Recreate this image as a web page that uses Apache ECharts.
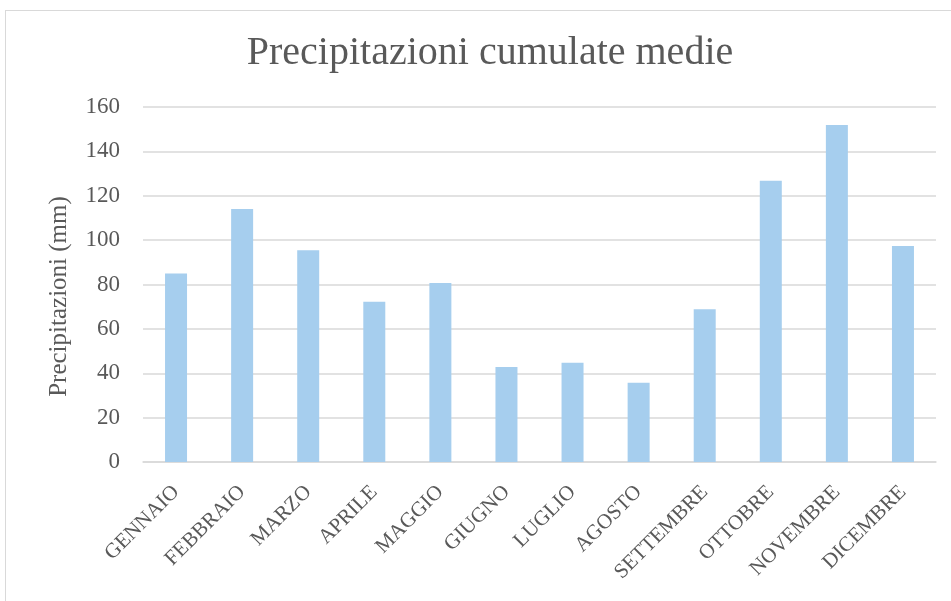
<!DOCTYPE html>
<html>
<head>
<meta charset="utf-8">
<script src="https://cdn.jsdelivr.net/npm/echarts@6/dist/echarts.min.js"></script>
<style>
  html, body { margin: 0; padding: 0; background: #fff; }
  #frame { position: absolute; left: 5px; top: 10px; width: 960px; height: 600px; border: 1px solid #d9d9d9; box-sizing: border-box; }
  #chart { position: absolute; left: 0; top: 0; width: 951px; height: 601px; }
</style>
</head>
<body>
<div id="frame"></div>
<div id="chart"></div>
<script>
// mesi e precipitazioni (mm)
var mesi = ['GENNAIO', 'FEBBRAIO', 'MARZO', 'APRILE', 'MAGGIO', 'GIUGNO', 'LUGLIO', 'AGOSTO', 'SETTEMBRE', 'OTTOBRE', 'NOVEMBRE', 'DICEMBRE'];
var precipitazioni = [85, 114, 95.4, 72.2, 80.7, 42.8, 44.7, 35.7, 68.8, 126.8, 151.9, 97.3];
var asseY = { min: 0, max: 160, step: 20 };

var font = '"Liberation Serif", "DejaVu Serif", serif';
var chart = echarts.init(document.getElementById('chart'));
chart.setOption({
  animation: false,
  title: {
    text: 'Precipitazioni cumulate medie',
    left: 485,
    textAlign: 'center',
    top: 28,
    textStyle: { fontFamily: font, fontSize: 40, fontWeight: 'normal', color: '#595959' }
  },
  grid: { left: 143, right: 15, top: 107, bottom: 139 },
  xAxis: {
    type: 'category',
    data: mesi,
    axisLine: { lineStyle: { color: '#d9d9d9', width: 1.5 } },
    axisTick: { show: false },
    axisLabel: { rotate: 45, margin: 27, fontFamily: font, fontSize: 21, color: '#595959' }
  },
  yAxis: {
    type: 'value',
    min: asseY.min,
    max: asseY.max,
    interval: asseY.step,
    name: 'Precipitazioni (mm)',
    nameLocation: 'middle',
    nameGap: 71,
    nameTextStyle: { fontFamily: font, fontSize: 25, color: '#595959', padding: [0, 24, 0, 0] },
    axisLine: { show: false },
    axisTick: { show: false },
    axisLabel: { margin: 23, fontFamily: font, fontSize: 23, color: '#595959' },
    splitLine: { lineStyle: { color: '#d9d9d9', width: 1.5 } }
  },
  series: [{
    type: 'bar',
    data: precipitazioni,
    barWidth: 22,
    itemStyle: { color: '#a6ceee' }
  }]
});
</script>
</body>
</html>
